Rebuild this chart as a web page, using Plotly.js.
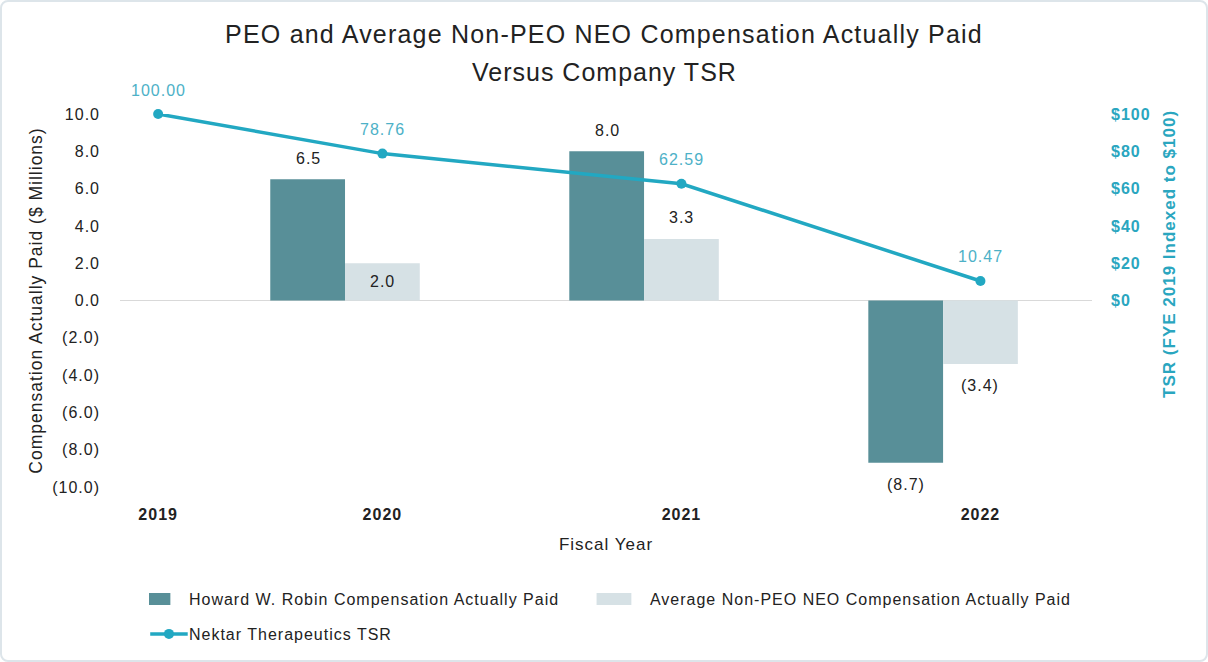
<!DOCTYPE html>
<html>
<head>
<meta charset="utf-8">
<script src="https://cdn.plot.ly/plotly-3.0.1.min.js"></script>
<style>
  html, body { margin:0; padding:0; background:#fff; }
  #wrap { position:relative; width:1208px; height:662px; }
  #chart { width:1208px; height:662px; }
  #frame { position:absolute; left:0; top:0; width:1208px; height:662px; box-sizing:border-box;
           border:2px solid #dde5ea; border-radius:8px; pointer-events:none; }
  svg text { letter-spacing: 1px; }
  svg text.gtitle { letter-spacing: 1.2px; }
  g.legend g.legendpoints path { transform-box: fill-box; transform-origin: center; transform: translateX(4px) scaleX(2.9); }
  g.legendlines path { transform-box: fill-box; transform-origin: center; transform: scaleX(1.25); }
</style>
</head>
<body>
<div id="wrap"><div id="chart"></div><div id="frame"></div></div>
<script>
// ---- data ----
const years = ['2019', '2020', '2021', '2022'];
const peoCAP = [null, 6.5, 8.0, -8.7];        // Howard W. Robin CAP ($M)
const nonPeoCAP = [null, 2.0, 3.3, -3.4];     // Average non-PEO NEO CAP ($M)
const tsr = [100.00, 78.76, 62.59, 10.47];    // Nektar TSR
const peoLabels = ['', '6.5', '8.0', '(8.7)'];
const nonPeoLabels = ['', '2.0', '3.3', '(3.4)'];
const tsrLabels = ['100.00', '78.76', '62.59', '10.47'];
const leftTickVals = [10, 8, 6, 4, 2, 0, -2, -4, -6, -8, -10];
const leftTickText = ['10.0', '8.0', '6.0', '4.0', '2.0', '0.0', '(2.0)', '(4.0)', '(6.0)', '(8.0)', '(10.0)'];
const rightTickVals = [0, 20, 40, 60, 80, 100];
const rightTickText = ['$0', '$20', '$40', '$60', '$80', '$100'];
const titleLine1 = 'PEO and Average Non-PEO NEO Compensation Actually Paid';
const titleLine2 = 'Versus Company TSR';

// category slots (bars) and the line's category positions as laid out in the source
const barSlot = [0, 1, 2, 3];
const tsrSlot = [0.375, 1.125, 2.125, 3.125];
// label placement styles for non-PEO labels
const nonPeoLabelPlace = ['none', 'inside', 'outside', 'outside'];

const DARK = '#588f98';
const LIGHT = '#d6e1e5';
const LINE = '#22a8c2';
const LBL = '#4db1c7';
const AX2 = '#2aa6bf';
const TXT = '#222222';
const FONT = 'Liberation Sans, Arial, sans-serif';

const traces = [
  { type:'bar', name:'Howard W. Robin Compensation Actually Paid', x:barSlot, y:peoCAP,
    marker:{color:DARK}, hoverinfo:'skip', legend:'legend' },
  { type:'bar', name:'Average Non-PEO NEO Compensation Actually Paid', x:barSlot, y:nonPeoCAP,
    marker:{color:LIGHT}, hoverinfo:'skip', legend:'legend' },
  { type:'scatter', mode:'lines+markers', name:'Nektar Therapeutics TSR', x:tsrSlot, y:tsr, yaxis:'y2',
    line:{color:LINE, width:3.5}, marker:{color:LINE, size:10}, cliponaxis:false, hoverinfo:'skip', legend:'legend2' }
];

const annotations = [];
const BAR_PX = 37;
barSlot.forEach((s, i) => {
  if (peoCAP[i] !== null) {
    annotations.push({ x:s, y:peoCAP[i], xref:'x', yref:'y', text:peoLabels[i], showarrow:false,
      xshift:-BAR_PX, yshift: peoCAP[i] >= 0 ? 21 : -22, font:{family:FONT, size:16, color:TXT} });
  }
  if (nonPeoCAP[i] !== null) {
    const inside = nonPeoLabelPlace[i] === 'inside';
    annotations.push({ x:s, y: inside ? nonPeoCAP[i] / 2 : nonPeoCAP[i],
      xref:'x', yref:'y', text:nonPeoLabels[i], showarrow:false,
      xshift:BAR_PX, yshift: inside ? 0 : (nonPeoCAP[i] >= 0 ? 21 : -22), font:{family:FONT, size:16, color:TXT} });
  }
});
tsrSlot.forEach((s, i) => {
  annotations.push({ x:s, y:tsr[i], xref:'x', yref:'y2', text:tsrLabels[i], showarrow:false,
    yshift:24, font:{family:FONT, size:16, color:LBL} });
});
annotations.push({ x:1.0 + 78/972, xanchor:'center', y:0.625, yanchor:'middle', xref:'paper', yref:'paper',
  text:'<b>TSR (FYE 2019 Indexed to $100)</b>',
  textangle:-90, showarrow:false, font:{family:FONT, size:17, color:AX2} });
// second title line
annotations.push({ x:(604 - 120) / 972, xanchor:'center', y:1 + (114 - 72) / 374, yanchor:'middle',
  xref:'paper', yref:'paper', text:titleLine2, showarrow:false, font:{family:FONT, size:25, color:TXT} });

const layout = {
  width:1208, height:662,
  margin:{l:120, r:116, t:114, b:174},
  paper_bgcolor:'#ffffff', plot_bgcolor:'#ffffff',
  font:{family:FONT, size:16, color:TXT},
  title:{ text:titleLine1,
    font:{family:FONT, size:25, color:TXT}, x:0.5, xref:'container', y:1 - 34/662, yref:'container', yanchor:'middle' },
  barmode:'group', bargap:0.5, bargroupgap:0,
  showlegend:true,
  legend:{ orientation:'h', x:0.0298, xanchor:'left', y:-0.2513, yanchor:'top', entrywidth:416, entrywidthmode:'pixels',
    font:{family:FONT, size:16, color:TXT}, traceorder:'normal' },
  legend2:{ orientation:'h', x:0.0298, xanchor:'left', y:-0.3449, yanchor:'top',
    font:{family:FONT, size:16, color:TXT} },
  xaxis:{ range:[0.2475, 3.498], tickvals:tsrSlot, ticktext:years, ticks:'', showgrid:false, zeroline:false,
    showline:false, tickfont:{family:FONT, size:16, color:TXT, weight:'bold'}, ticklabelstandoff:16,
    title:{ text:'Fiscal Year', font:{family:FONT, size:17, color:TXT}, standoff:16 } },
  yaxis:{ range:[-10, 10], tickvals:leftTickVals, ticktext:leftTickText, ticks:'', showgrid:false,
    zeroline:true, zerolinecolor:'#d9d9d9', zerolinewidth:1.5, showline:false, ticklabelstandoff:19,
    tickfont:{family:FONT, size:16, color:TXT},
    title:{ text:'Compensation Actually Paid ($ Millions)', font:{family:FONT, size:17.5, color:TXT}, standoff:5 } },
  yaxis2:{ overlaying:'y', side:'right', range:[-100, 100], tickvals:rightTickVals, ticktext:rightTickText,
    ticks:'', showgrid:false, zeroline:false, showline:false, ticklabelstandoff:18,
    tickfont:{family:FONT, size:16, color:AX2, weight:'bold'} },
  annotations:annotations
};

Plotly.newPlot('chart', traces, layout, {displayModeBar:false, staticPlot:true});
</script>
</body>
</html>
